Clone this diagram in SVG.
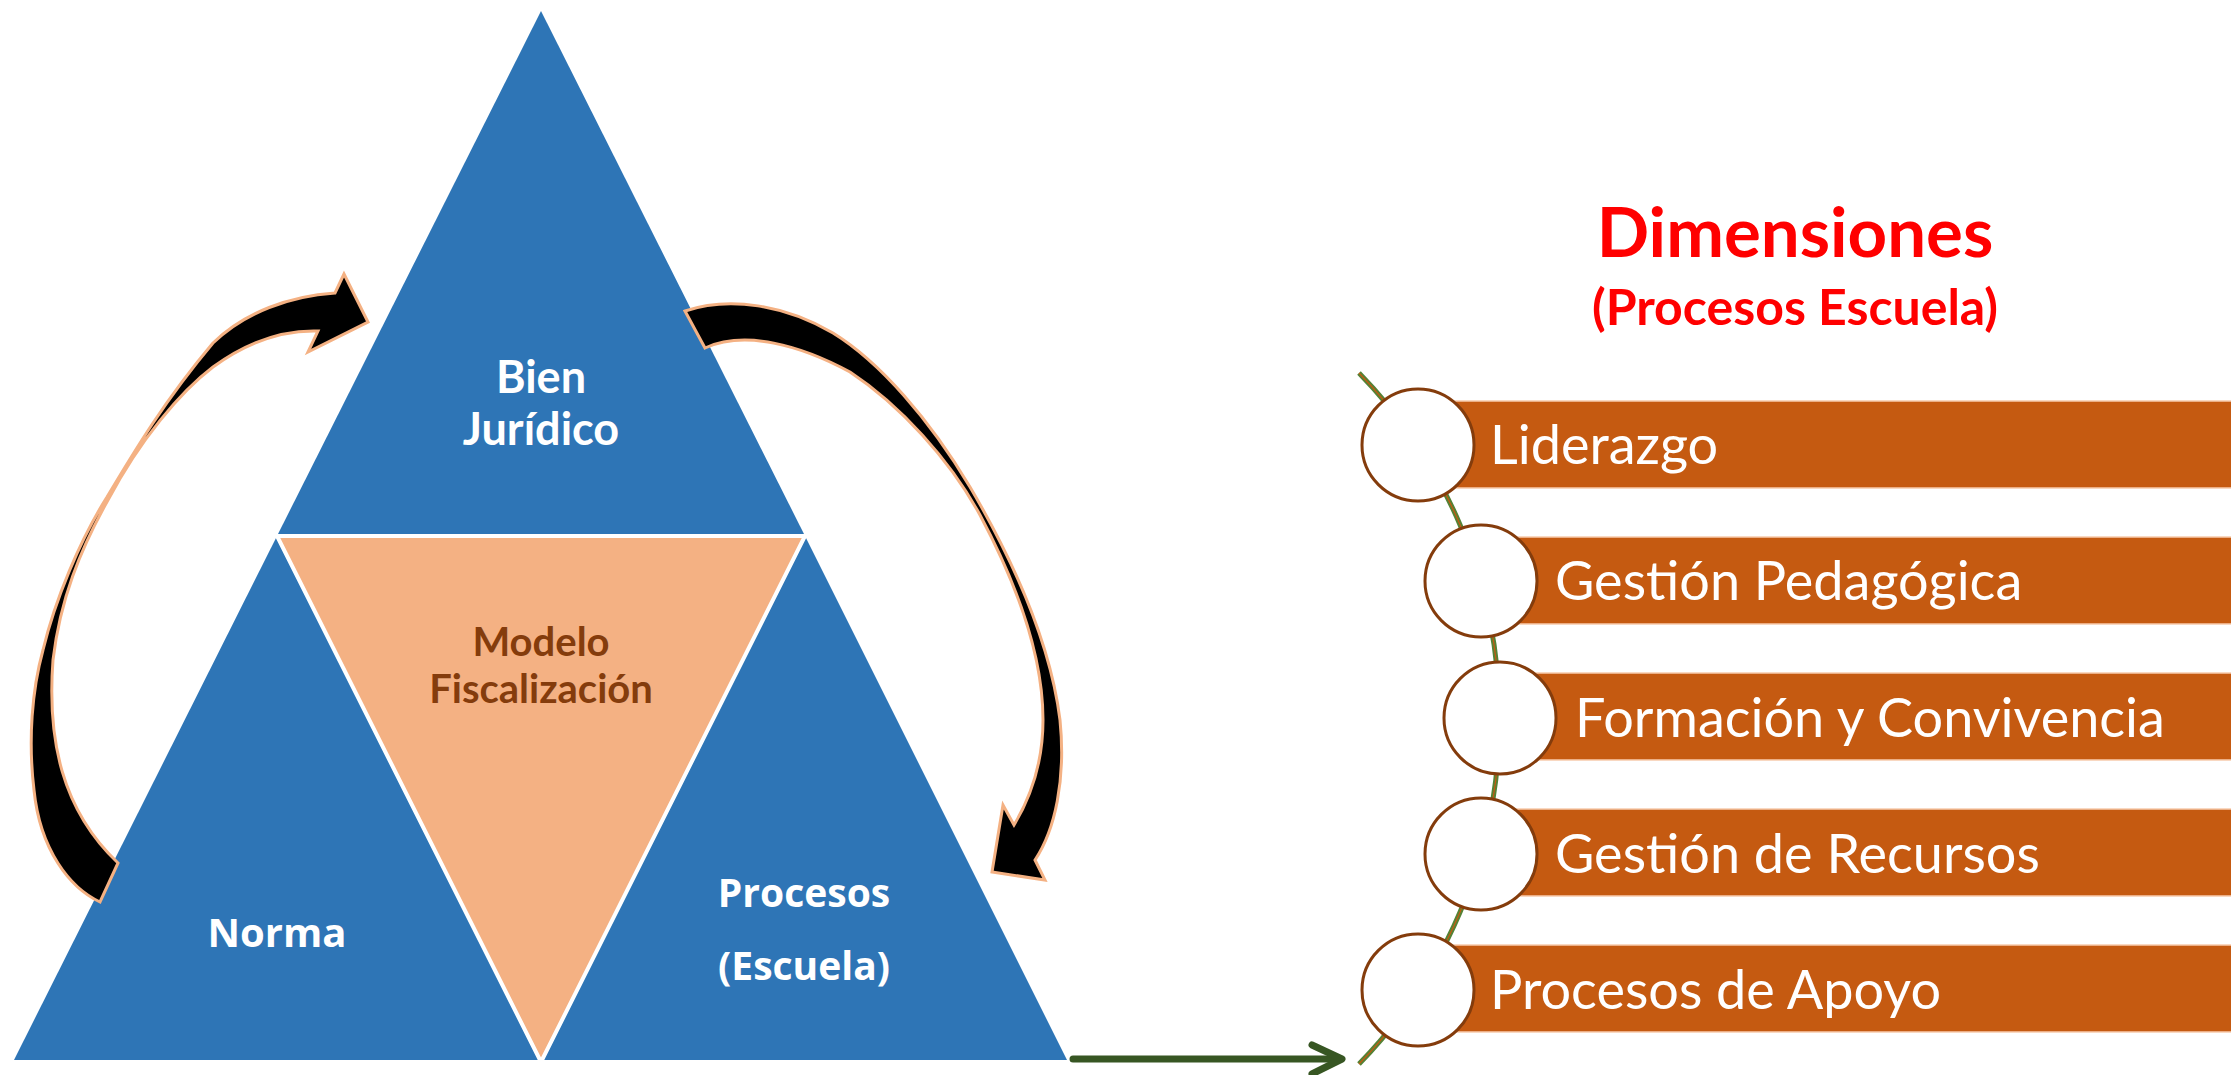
<svg xmlns="http://www.w3.org/2000/svg" width="2231" height="1075" viewBox="0 0 2231 1075">
<style>
.blue{fill:#2E75B6}
.core{fill:#F4B183;stroke:#FFFFFF;stroke-width:4;stroke-linejoin:miter}
.lbl{font-family:"Open Sans","Noto Sans",sans-serif;font-weight:700;fill:#FFFFFF;text-anchor:middle}
.cal{font-family:Lato,"Open Sans",sans-serif;font-weight:700;text-anchor:middle}
.bar{fill:#C55A11;stroke:#F8CBAD;stroke-width:1.5}
.dot{fill:#FFFFFF;stroke:#843C0C;stroke-width:3}
.bt{font-family:Lato,"Open Sans",sans-serif;font-size:54px;fill:#FFFFFF}
.curv{fill:#000000;stroke:#F4B183;stroke-width:3;stroke-linejoin:miter}
</style>
<rect width="2231" height="1075" fill="#FFFFFF"/>
<g id="triangle">
  <g id="bien-juridico">
    <polygon class="blue" points="541,11 277,536 805,536"/>
    <text class="cal" x="541" y="393" font-size="45" fill="#FFFFFF">Bien</text>
    <text class="cal" x="541" y="445" font-size="45" fill="#FFFFFF">Jurídico</text>
  </g>
  <g id="norma">
    <polygon class="blue" points="277,536 14,1060 541,1060"/>
    <text class="lbl" x="277" y="947" font-size="40">Norma</text>
  </g>
  <g id="procesos">
    <polygon class="blue" points="805,536 541,1060 1067,1060"/>
    <text class="lbl" x="804" y="907" font-size="39">Procesos</text>
    <text class="lbl" x="804" y="980" font-size="39">(Escuela)</text>
  </g>
  <g id="modelo-fiscalizacion">
    <polygon class="core" points="277,536 805,536 541,1062"/>
    <text class="cal" x="541" y="656" font-size="40" fill="#843C0C">Modelo</text>
    <text class="cal" x="541" y="703" font-size="40" fill="#843C0C">Fiscalización</text>
  </g>
</g>
<g id="connectors">
  <path id="arrow-left" class="curv" d="M100,902 C70,888 40,850 34,790 C28,740 32,690 43,650 C55,600 80,540 107,497 C135,450 165,400 213,343 C245,312 290,296 335,293 L344,274 L368,322 L308,352 L318,331 C285,330 250,340 213,367 C180,392 140,440 108,500 C80,550 60,600 53,660 C47,740 62,810 118,863 Z"/>
  <path id="arrow-right" class="curv" d="M685,311 C730,296 785,305 833,333 C880,362 930,420 970,487 C1010,555 1050,640 1060,720 C1066,780 1055,830 1035,860 L1045,880 L992,872 L1003,805 L1014,825 C1032,795 1043,760 1043,720 C1043,660 1020,590 980,515 C950,460 900,405 850,372 C800,345 745,330 705,348 Z"/>
  <g id="arrow-to-dimensions" fill="none" stroke="#375623" stroke-width="7" stroke-linecap="round" stroke-linejoin="round">
    <line x1="1073" y1="1059" x2="1340" y2="1059"/>
    <polyline points="1312,1045 1342,1059 1312,1074"/>
  </g>
  <path id="spine" d="M1359,373 A495,495 0 0,1 1359,1064" fill="none" stroke="#548235" stroke-width="5"/>
  <path d="M1359,373 A495,495 0 0,1 1359,1064" fill="none" stroke="#C55A11" stroke-width="1.2"/>
</g>
<g id="title">
  <text class="cal" x="1795" y="257" font-size="69" fill="#FF0000">Dimensiones</text>
  <text class="cal" x="1795" y="325" font-size="50" fill="#FF0000">(Procesos Escuela)</text>
</g>
<g id="dim-liderazgo">
  <rect class="bar" x="1418" y="401" width="820" height="87"/>
  <circle class="dot" cx="1418" cy="445" r="56"/>
  <text class="bt" x="1490" y="464">Liderazgo</text>
</g>
<g id="dim-gestion-pedagogica">
  <rect class="bar" x="1481" y="537" width="760" height="87"/>
  <circle class="dot" cx="1481" cy="581" r="56"/>
  <text class="bt" x="1555" y="600">Gestión Pedagógica</text>
</g>
<g id="dim-formacion-convivencia">
  <rect class="bar" x="1500" y="673" width="740" height="87"/>
  <circle class="dot" cx="1500" cy="718" r="56"/>
  <text class="bt" x="1575" y="737">Formación y Convivencia</text>
</g>
<g id="dim-gestion-recursos">
  <rect class="bar" x="1481" y="809" width="760" height="87"/>
  <circle class="dot" cx="1481" cy="854" r="56"/>
  <text class="bt" x="1555" y="873">Gestión de Recursos</text>
</g>
<g id="dim-procesos-apoyo">
  <rect class="bar" x="1418" y="945" width="820" height="87"/>
  <circle class="dot" cx="1418" cy="990" r="56"/>
  <text class="bt" x="1490" y="1009">Procesos de Apoyo</text>
</g>
</svg>
